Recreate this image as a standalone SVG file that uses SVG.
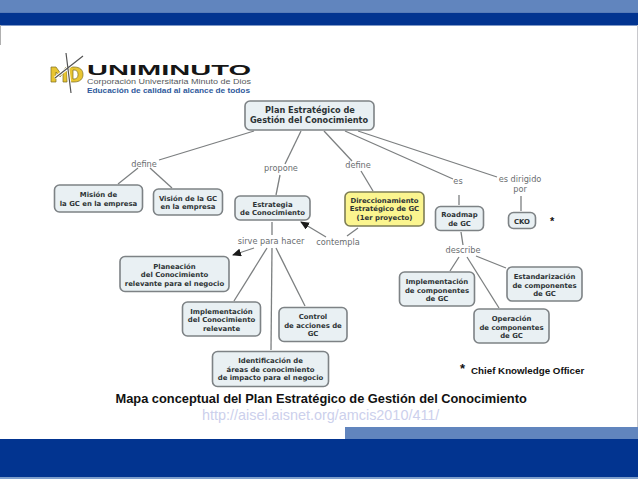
<svg xmlns="http://www.w3.org/2000/svg" width="638" height="479" viewBox="0 0 638 479">
<style>
.n{fill:#e9f0f3;stroke:#7d8285;stroke-width:1.6}
.y{fill:#fbf58f;stroke:#7d7d55;stroke-width:1.6}
.t{font:bold 6.9px "DejaVu Sans",sans-serif;fill:#2d3335;text-anchor:middle}
.p{font-size:8.2px}
.l{font:8.2px "DejaVu Sans",sans-serif;fill:#6a6e70;text-anchor:middle}
.c line{stroke:#7c7f80;stroke-width:1.3;fill:none}
</style>
<defs><marker id="a" markerWidth="9" markerHeight="8" refX="8" refY="4" orient="auto" markerUnits="userSpaceOnUse"><path d="M0 0L9 4L0 8Z" fill="#1a1a1a"/></marker></defs>
<rect width="638" height="479" fill="#fff"/>
<rect width="638" height="12.5" fill="#6185be"/>
<rect y="12.5" width="638" height="13" fill="#023490"/>
<rect x="637" y="25" width="1" height="402" fill="#c8c8cc"/>
<rect x="0" y="25" width="1" height="20" fill="#b0b0b0"/>
<rect x="345" y="427" width="293" height="12" fill="#6185be"/>
<rect y="439" width="638" height="38" fill="#023490"/>
<rect y="477" width="638" height="2" fill="#7f9fcc"/>
<g id="logo">
<path d="M51 67h5l5 7 5-7h1v15h-4v-9l-3 4-4-5v10h-5z" fill="#e8c532" stroke="#7a6c20" stroke-width=".7"/>
<path d="M69 67h5c6 0 9 3 9 7.500s-3 7.500-9 7.500h-5z M73 70v9h1c3 0 4-2 4-4.500s-1-4.500-4-4.500z" fill="#e8c532" fill-rule="evenodd" stroke="#7a6c20" stroke-width=".7"/>
<path d="M66 53l5 40M55 78L83 56" stroke="#fff" stroke-width="3" fill="none"/>
<path d="M66 53l5 40M55 78L83 56" stroke="#555" stroke-width="1.200" fill="none"/>
<text x="87" y="75" font-family="'Liberation Sans',sans-serif" font-weight="bold" font-size="14" textLength="164" lengthAdjust="spacingAndGlyphs" fill="#161616">UNIMINUTO</text>
<text x="87" y="84" font-family="'Liberation Sans',sans-serif" font-size="8" textLength="164" lengthAdjust="spacingAndGlyphs" fill="#55595c">Corporación Universitaria Minuto de Dios</text>
<text x="87" y="93" font-family="'Liberation Sans',sans-serif" font-weight="bold" font-size="8" textLength="163" lengthAdjust="spacingAndGlyphs" fill="#2f5a9c">Educación de calidad al alcance de todos</text>
</g>
<g class="c" id="connectors">
<line x1="254" y1="131" x2="159" y2="160"/>
<line x1="138" y1="168" x2="118" y2="184"/>
<line x1="150" y1="168" x2="172" y2="188"/>
<line x1="301" y1="131" x2="285" y2="164"/>
<line x1="280" y1="175" x2="276" y2="195"/>
<line x1="324" y1="131" x2="352" y2="161"/>
<line x1="361" y1="171" x2="373" y2="191"/>
<line x1="345" y1="131" x2="453" y2="179"/>
<line x1="459" y1="195" x2="459" y2="205"/>
<line x1="358" y1="131" x2="497" y2="177"/>
<line x1="521" y1="196" x2="521" y2="211"/>
<line x1="272" y1="222" x2="272" y2="235"/>
<line x1="358" y1="228" x2="347" y2="236"/>
<line x1="326" y1="237" x2="301" y2="222" marker-end="url(#a)"/>
<line x1="254" y1="248" x2="233" y2="255" marker-end="url(#a)"/>
<line x1="267" y1="248" x2="234" y2="301"/>
<line x1="272" y1="248" x2="271" y2="350"/>
<line x1="276" y1="248" x2="305" y2="306"/>
<line x1="461" y1="232" x2="463" y2="245"/>
<line x1="459" y1="257" x2="450" y2="271"/>
<line x1="467" y1="257" x2="499" y2="308"/>
<line x1="476" y1="256" x2="506" y2="268"/>
</g>
<g id="n1"><rect class="n" x="245" y="101" width="129" height="29" rx="5"/><text class="t p" x="310" y="113">Plan Estratégico de</text><text class="t p" x="309" y="123">Gestión del Conocimiento</text></g>
<g id="n2"><rect class="n" x="54.500" y="185" width="88" height="27" rx="5"/><text class="t" x="98.500" y="197">Misión de</text><text class="t" x="98.500" y="206">la GC en la empresa</text></g>
<g id="n3"><rect class="n" x="153.500" y="189" width="69" height="26" rx="5"/><text class="t" x="188" y="200.500">Visión de la GC</text><text class="t" x="188" y="209">en la empresa</text></g>
<g id="n4"><rect class="n" x="235" y="196" width="75" height="24" rx="5"/><text class="t" x="272.500" y="206.500">Estrategia</text><text class="t" x="272.500" y="215">de Conocimiento</text></g>
<g id="n5"><rect class="y" x="345" y="192" width="79" height="34" rx="5"/><text class="t" x="384.500" y="202.500">Direccionamiento</text><text class="t" x="384.500" y="211">Estratégico de GC</text><text class="t" x="384.500" y="219.500">(1er proyecto)</text></g>
<g id="n6"><rect class="n" x="435.500" y="206.500" width="48" height="24" rx="5"/><text class="t" x="459.500" y="217">Roadmap</text><text class="t" x="459.500" y="225.500">de GC</text></g>
<g id="n7"><rect class="n" x="508.500" y="212.500" width="27" height="16" rx="5"/><text class="t" x="522" y="223.500">CKO</text></g>
<g id="n8"><rect class="n" x="507" y="267" width="75" height="34" rx="5"/><text class="t" x="544.500" y="279">Estandarización</text><text class="t" x="544.500" y="287.500">de componentes</text><text class="t" x="544.500" y="296">de GC</text></g>
<g id="n9"><rect class="n" x="399.500" y="272" width="75" height="34" rx="5"/><text class="t" x="437" y="284">Implementación</text><text class="t" x="437" y="292.500">de componentes</text><text class="t" x="437" y="301">de GC</text></g>
<g id="n10"><rect class="n" x="474" y="309" width="75" height="34" rx="5"/><text class="t" x="511.500" y="321">Operación</text><text class="t" x="511.500" y="329.500">de componentes</text><text class="t" x="511.500" y="338">de GC</text></g>
<g id="n11"><rect class="n" x="120" y="256.500" width="109" height="35" rx="5"/><text class="t" x="174.500" y="268.500">Planeación</text><text class="t" x="174.500" y="277">del Conocimiento</text><text class="t" x="174.500" y="285.500">relevante para el negocio</text></g>
<g id="n12"><rect class="n" x="182.500" y="302" width="78" height="34" rx="5"/><text class="t" x="221.500" y="313.500">Implementación</text><text class="t" x="221.500" y="322">del Conocimiento</text><text class="t" x="221.500" y="330.500">relevante</text></g>
<g id="n13"><rect class="n" x="279" y="307.500" width="68" height="34" rx="5"/><text class="t" x="313" y="319">Control</text><text class="t" x="313" y="327.500">de acciones de</text><text class="t" x="313" y="336">GC</text></g>
<g id="n14"><rect class="n" x="212.500" y="351.500" width="116" height="35" rx="5"/><text class="t" x="270.500" y="363">Identificación de</text><text class="t" x="270.500" y="371.500">áreas de conocimiento</text><text class="t" x="270.500" y="380">de impacto para el negocio</text></g>
<g id="labels">
<text class="l" x="144" y="167">define</text>
<text class="l" x="281" y="171">propone</text>
<text class="l" x="358" y="168">define</text>
<text class="l" x="458" y="184">es</text>
<text class="l" x="520" y="182">es dirigido</text>
<text class="l" x="520" y="192">por</text>
<text class="l" x="271" y="244">sirve para hacer</text>
<text class="l" x="338" y="245">contempla</text>
<text class="l" x="463" y="253">describe</text>
</g>
<g id="notes" font-family="'Liberation Sans',Arial,sans-serif">
<text x="550" y="225" font-size="11" font-weight="bold" fill="#111">*</text>
<text x="460" y="373" font-size="13" font-weight="bold" fill="#111">*</text>
<text x="471" y="374" font-size="9.750" font-weight="bold" fill="#111">Chief Knowledge Officer</text>
<text x="115.500" y="403" font-size="12.840" font-weight="bold" fill="#111">Mapa conceptual del Plan Estratégico de Gestión del Conocimiento</text>
<text x="202" y="419.500" font-size="14.400" fill="#ccd0ec">http://aisel.aisnet.org/amcis2010/411/</text>
</g>
</svg>
